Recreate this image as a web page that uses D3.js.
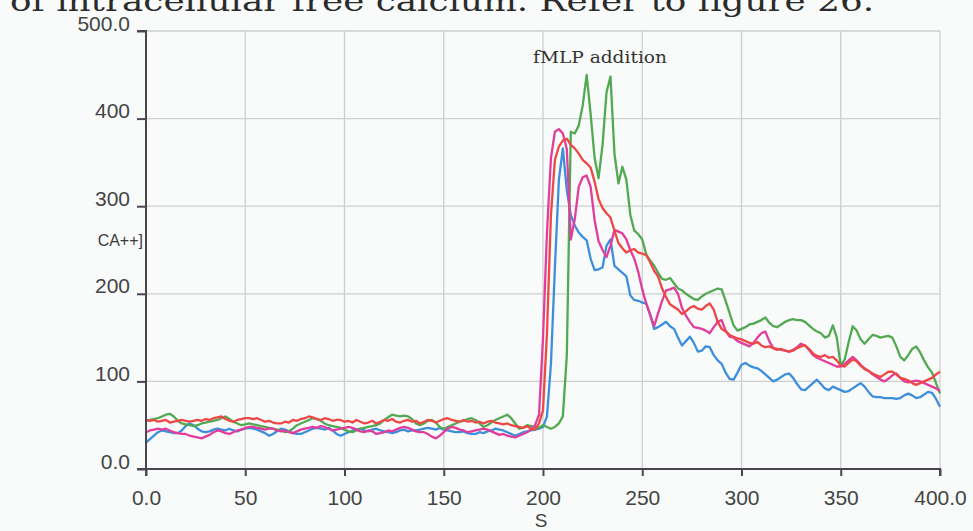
<!DOCTYPE html>
<html>
<head>
<meta charset="utf-8">
<script src="https://cdn.jsdelivr.net/npm/d3@7/dist/d3.min.js"></script>
<style>
  html, body { margin: 0; padding: 0; background: #f8fbf9; }
  svg { display: block; }
</style>
</head>
<body>
<svg id="chart" width="973" height="531"></svg>
<script>
// Sample times (s), one reading every 2 s from 0 to 400
const times = d3.range(0, 401, 2);

// [Ca++] traces for four cell samples
const redSeries = [
  56,55,56,54,55,56,53,54,55,56,
  55,54,55,56,55,57,56,58,59,60,
  57,55,54,56,57,58,58,57,58,56,
  54,55,53,52,52,54,53,56,55,57,
  58,60,59,57,56,58,57,55,56,56,
  54,55,53,56,54,52,53,55,52,54,
  56,55,57,54,53,55,56,54,55,52,
  54,56,55,53,55,57,58,56,55,54,
  56,54,55,53,54,52,54,55,53,52,
  51,52,50,49,48,47,49,46,45,52,
  67,155,290,353,368,375,377,370,366,360,
  353,349,344,328,308,298,292,287,272,258,
  252,247,250,251,247,246,244,236,226,220,
  206,196,188,185,182,177,180,184,186,183,
  182,186,189,182,168,160,157,153,151,149,
  148,146,144,143,145,141,139,140,138,136,
  137,135,134,135,138,140,141,137,132,129,
  128,130,127,128,124,118,117,121,125,123,
  118,114,112,109,107,105,108,111,111,108,
  104,103,101,98,96,98,100,102,104,108,
  111
];

const magentaSeries = [
  42,44,45,46,45,46,44,42,41,40,
  40,38,37,36,35,37,39,42,44,43,
  41,40,42,44,45,47,48,48,47,46,
  45,46,46,44,43,44,42,41,43,45,
  46,47,48,47,49,48,46,44,45,46,
  47,48,47,45,43,42,44,43,40,41,
  42,44,43,45,47,48,47,45,43,42,
  42,40,37,35,38,42,46,48,47,45,
  44,42,43,44,45,46,45,43,41,39,
  40,38,37,36,38,40,42,45,50,62,
  150,270,355,385,388,383,365,262,285,322,
  333,335,322,284,260,250,242,255,273,271,
  269,262,250,240,225,205,189,176,163,178,
  192,204,205,207,200,184,175,168,162,161,
  160,158,155,162,168,170,158,151,150,146,
  144,142,140,144,150,155,157,146,138,137,
  136,135,134,136,139,143,141,136,130,127,
  125,123,121,119,117,117,120,124,128,124,
  119,115,112,108,105,102,100,103,107,109,
  104,100,99,100,101,100,98,96,94,92,
  89
];

const blueSeries = [
  30,34,38,42,44,43,42,41,41,44,
  49,52,50,46,43,42,43,45,46,45,
  44,46,44,43,45,46,47,46,45,43,
  41,38,40,43,46,45,43,41,40,40,
  42,44,46,47,46,45,47,44,40,38,
  40,42,44,45,46,44,43,45,46,44,
  43,42,41,42,44,45,43,44,44,45,
  46,47,46,45,47,45,44,43,42,42,
  43,41,40,40,42,41,43,44,46,45,
  44,42,40,38,40,42,43,44,45,46,
  48,60,120,230,330,366,318,290,278,270,
  265,261,240,227,228,230,255,262,232,228,
  224,220,198,193,192,190,189,176,160,162,
  165,168,163,160,150,141,146,151,144,134,
  135,140,139,130,124,120,110,103,102,110,
  119,121,118,116,115,112,108,104,100,102,
  105,108,109,104,97,91,90,94,98,102,
  97,92,90,94,92,90,88,89,92,95,
  98,94,88,83,82,82,81,81,81,80,
  81,84,86,84,81,82,85,88,87,80,
  71
];

const greenSeries = [
  55,56,57,58,60,62,63,60,55,52,
  51,50,49,50,52,53,54,55,56,58,
  60,57,54,52,50,51,52,51,50,49,
  48,47,46,45,44,42,43,46,50,52,
  54,56,58,57,55,52,50,49,48,47,
  45,43,42,44,46,47,48,49,50,52,
  56,59,62,61,60,61,60,57,52,50,
  52,55,56,53,48,46,48,50,52,54,
  55,57,58,56,52,48,50,53,56,58,
  60,62,58,52,46,47,50,49,48,47,
  50,48,46,48,52,60,130,385,383,392,
  415,450,405,355,332,370,430,448,360,326,
  345,330,290,272,268,262,245,238,232,224,
  217,216,218,212,206,204,200,197,194,193,
  197,200,202,204,206,205,192,178,164,158,
  160,162,165,166,168,170,173,167,163,162,
  165,168,170,171,170,170,168,164,160,157,
  155,150,152,164,150,118,125,145,163,158,
  148,143,148,153,152,150,151,152,150,140,
  128,124,130,137,140,133,124,116,110,98,
  86
];

// Axis ticks and their printed labels
const xTicks = [0, 50, 100, 150, 200, 250, 300, 350, 400];
const xTickLabels = ["0.0", "50", "100", "150", "200", "250", "300", "350", "400.0"];
const yTicks = [0, 100, 200, 300, 400, 500];
const yTickLabels = ["0.0", "100", "200", "300", "400", "500.0"];

const seriesList = [
  { name: "blue", values: blueSeries, color: "#3d8fdd" },
  { name: "green", values: greenSeries, color: "#52a952" },
  { name: "magenta", values: magentaSeries, color: "#e23d9c" },
  { name: "red", values: redSeries, color: "#ef4646" }
];

const svg = d3.select("#chart");
const W = 973, H = 531;
const plotLeft = 146, plotRight = 940, plotTop = 31, plotBottom = 469;

svg.append("rect").attr("width", W).attr("height", H).attr("fill", "#f8fbf9");

// Running text line of the page above the figure
svg.append("text")
  .attr("x", 10).attr("y", 11)
  .attr("font-family", "DejaVu Serif, serif")
  .attr("font-size", 28)
  .attr("fill", "#2b2b2b")
  .attr("textLength", 864)
  .attr("lengthAdjust", "spacingAndGlyphs")
  .text("of intracellular free calcium.  Refer to figure 26.");

const x = d3.scaleLinear().domain([0, 400]).range([plotLeft, plotRight]);
const y = d3.scaleLinear().domain([0, 500]).range([plotBottom, plotTop]);

// Grid
const grid = svg.append("g").attr("stroke", "#cdcfce").attr("stroke-width", 1.3);
grid.selectAll("line.v").data(xTicks.slice(1)).join("line")
  .attr("class", "v")
  .attr("x1", d => x(d)).attr("x2", d => x(d))
  .attr("y1", y(500)).attr("y2", y(0));
grid.selectAll("line.h").data(yTicks.slice(1)).join("line")
  .attr("class", "h")
  .attr("x1", x(0)).attr("x2", x(400))
  .attr("y1", d => y(d)).attr("y2", d => y(d));

// Traces
const line = d3.line()
  .x((d, i) => x(times[i]))
  .y(d => y(d));

svg.append("g").selectAll("path").data(seriesList).join("path")
  .attr("d", s => line(s.values))
  .attr("fill", "none")
  .attr("stroke", s => s.color)
  .attr("stroke-width", 2.3)
  .attr("stroke-linejoin", "round");

// Axes
const axisColor = "#4a4650";
const labelColor = "#444444";

const yAxis = d3.axisLeft(y)
  .tickValues(yTicks)
  .tickFormat((d, i) => yTickLabels[i])
  .tickSize(9)
  .tickPadding(7);
const gy = svg.append("g").attr("transform", `translate(${plotLeft},0)`).call(yAxis);
gy.select(".domain").attr("stroke", axisColor).attr("stroke-width", 2).attr("d", `M-9,${plotTop}H0V${plotBottom + 7}`);
gy.selectAll(".tick line").attr("stroke", axisColor).attr("stroke-width", 2);
gy.selectAll(".tick text")
  .attr("dy", "-1")
  .attr("fill", labelColor)
  .attr("font-family", "Liberation Sans, Arial, sans-serif")
  .attr("font-size", 21);

const xAxis = d3.axisBottom(x)
  .tickValues(xTicks)
  .tickFormat((d, i) => xTickLabels[i])
  .tickSize(7);
const gx = svg.append("g").attr("transform", `translate(0,${plotBottom})`).call(xAxis);
gx.select(".domain").attr("stroke", axisColor).attr("stroke-width", 2).attr("d", `M${plotLeft - 9},0H${plotRight}V7`);
gx.selectAll(".tick line").attr("stroke", axisColor).attr("stroke-width", 2);
gx.selectAll(".tick text")
  .attr("y", 36).attr("dy", 0)
  .attr("fill", labelColor)
  .attr("font-family", "Liberation Sans, Arial, sans-serif")
  .attr("font-size", 21);

// Axis titles
svg.append("text")
  .attr("x", 541).attr("y", 527)
  .attr("text-anchor", "middle")
  .attr("fill", labelColor)
  .attr("font-family", "Liberation Sans, Arial, sans-serif")
  .attr("font-size", 19)
  .text("S");

svg.append("text")
  .attr("x", 143).attr("y", 246)
  .attr("text-anchor", "end")
  .attr("fill", "#3a3a3a")
  .attr("font-family", "Liberation Sans, Arial, sans-serif")
  .attr("font-size", 16)
  .text("CA++]");

// Event annotation
svg.append("text")
  .attr("x", 600).attr("y", 63)
  .attr("text-anchor", "middle")
  .attr("fill", "#333")
  .attr("font-family", "DejaVu Serif, serif")
  .attr("font-size", 17)
  .attr("textLength", 134)
  .attr("lengthAdjust", "spacingAndGlyphs")
  .text("fMLP addition");
</script>
</body>
</html>
